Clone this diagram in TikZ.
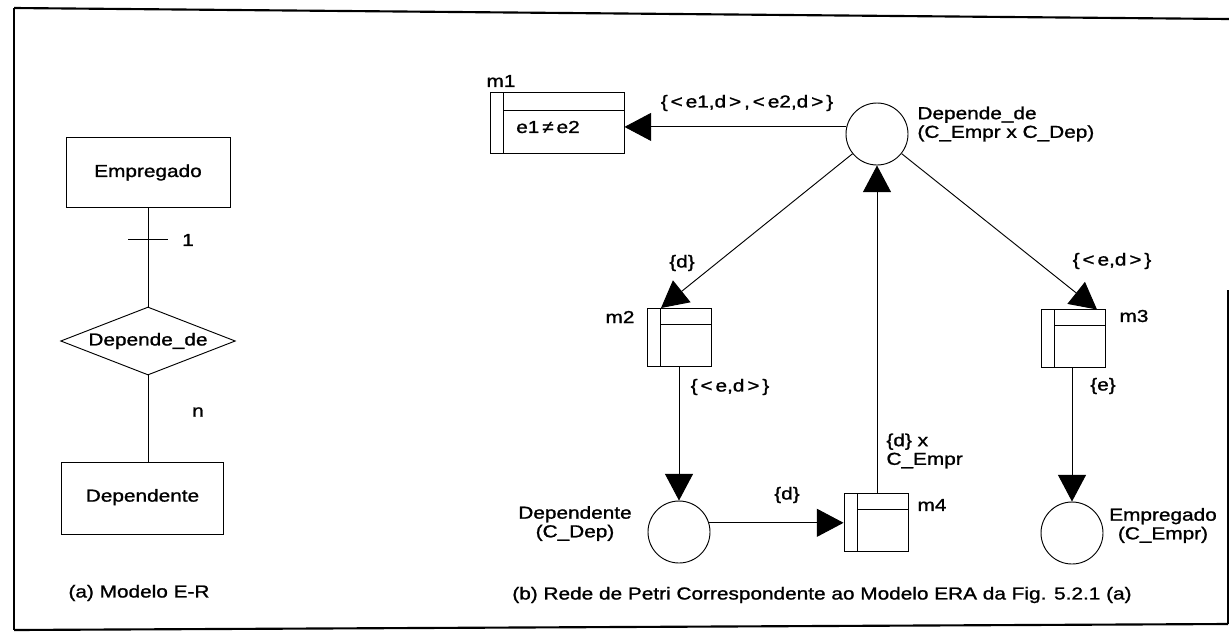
\documentclass[tikz,border=0pt]{standalone}
\usepackage{fontspec}
\setmainfont{Liberation Sans}[FakeStretch=1.2,FakeBold=1.2]
\usetikzlibrary{arrows.meta,shapes.geometric}

\begin{document}
\begin{tikzpicture}[x=0.75pt,y=-0.75pt,line width=0.7pt,
  every node/.style={inner sep=0pt,font=\fontsize{13}{14}\selectfont},
  erbox/.style={draw,rectangle,minimum width=123pt,minimum height=52pt},
  erdiamond/.style={draw,diamond,aspect=2.57,minimum width=131pt,minimum height=51pt},
  place/.style={draw,circle,minimum size=46.5pt},
  trans/.style={draw,rectangle,minimum width=48pt,minimum height=43.5pt,
    path picture={
      \draw ([xshift=9.75pt]path picture bounding box.north west)
         -- ([xshift=9.75pt]path picture bounding box.south west);
      \draw ([xshift=9.75pt,yshift=-#1]path picture bounding box.north west)
         -- ([yshift=-#1]path picture bounding box.north east);
    }},
  trans/.default=12pt,
  arr/.style={-{Triangle[length=20pt,width=21pt]}},
  frame/.style={line width=1.6pt}]

% page and outer frame
\path[use as bounding box,fill=white] (0,0) rectangle (1229,633);
\draw[frame] (14,8) -- (1229,19);
\draw[frame] (14,8) -- (14,630);
\draw[frame] (14,630) -- (1228,624);
\draw[frame] (1228,290) -- (1228,624);

% ---------- (a) entity-relationship model ----------
\node[erbox] (E1) at (148,172.5) {Empregado};
\node[erdiamond] (Rel) at (148,341) {Depende\_de};
\node[erbox,minimum width=122pt,minimum height=54pt] (D1) at (142.5,498) {\raisebox{4pt}{Dependente}};
\draw (E1) -- (Rel);
\draw (Rel.south) -- (Rel.south |- D1.north);
\coordinate (tk) at (148,239);
\draw ([xshift=-15pt]tk) -- ([xshift=15pt]tk);
\node (c1) at (188,240) {1};
\node (cn) at (198,412) {n};
\node (capA) at (139,593) {(a) Modelo E-R};

% ---------- (b) Petri net ----------
% place Depende_de
\node[place] (Dc) at (877,134) {};
\node[anchor=west,align=left] (Dclab) at (917,124) {Depende\_de\\(C\_Empr x C\_Dep)};

% transition m1
\node[trans=13.5pt,minimum width=100.5pt,minimum height=45.75pt] (m1) at (557,122.5) {};
\node (m1txt) at (548,127) {e1\,≠\,e2};
\node (m1lab) at (501,81) {m1};
\draw[arr] (Dc.167) -- (Dc.167 -| m1.east);
\node (l1) at (747,103) {\{\,<\,e1,d\,>\,,\,<\,e2,d\,>\,\}};

% transition m2
\node[trans] (m2) at (679.5,337) {};
\node (m2lab) at (620,317) {m2};
\coordinate (m2in) at (661,308);
\draw[arr] (Dc) -- (m2in);
\node (l2) at (682,263) {\{d\}};

% place Dependente
\node[place] (Dp) at (679,532) {};
\node[align=center] (Dplab) at (575,523.5) {Dependente\\(C\_Dep)};
\draw[arr] (Dp.north |- m2.south) -- (Dp.north);
\node (l3) at (730,387) {\{\,<\,e,d\,>\,\}};

% transition m4
\node[trans] (m4) at (876,522) {};
\node (m4lab) at (932,505) {m4};
\draw[arr] (Dp.17) -- (Dp.17 -| m4.west);
\node (l4) at (787,495) {\{d\}};
\draw[arr] (Dc.south |- m4.north) -- (Dc.south);
\node[anchor=west,align=left] (l5) at (886,451) {\{d\} x\\C\_Empr};

% transition m3
\node[trans] (m3) at (1073.5,338.5) {};
\node (m3lab) at (1134,316) {m3};
\coordinate (m3in) at (1097,309.5);
\draw[arr] (Dc) -- (m3in);
\node (l6) at (1112,261) {\{\,<\,e,d\,>\,\}};

% place Empregado
\node[place] (Ec) at (1072,533) {};
\node[align=center] (Eclab) at (1163,525.5) {Empregado\\(C\_Empr)};
\draw[arr] (Ec.north |- m3.south) -- (Ec.north);
\node (l7) at (1103,386) {\{e\}};

\node (capB) at (822,595) {(b) Rede de Petri Correspondente ao Modelo ERA da Fig. 5.2.1 (a)};
\end{tikzpicture}
\end{document}
